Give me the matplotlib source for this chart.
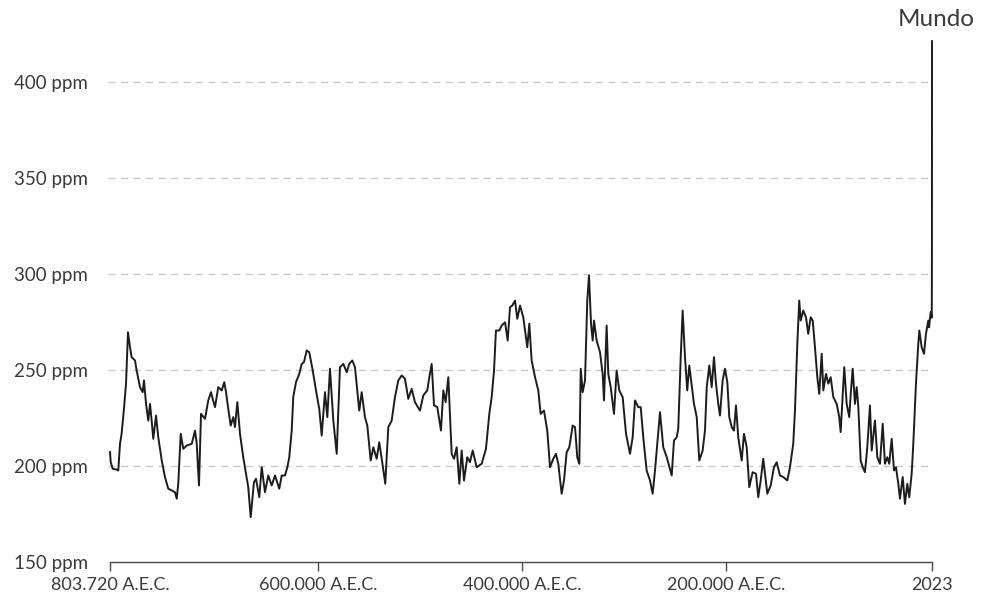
import numpy as np
import matplotlib
matplotlib.use("Agg")
import matplotlib.pyplot as plt

# Time in thousands of years relative to year 0 (negative = B.C.E.)
years_ka = [
    -803.72, -803.0, -801.1, -797.2, -795.6, -793.9, -792.3, -790.0, -788.0, -786.1,
    -784.1, -782.5, -779.2, -777.6, -774.3, -771.7, -770.4, -768.4, -766.2, -764.5,
    -762.9, -761.3, -758.6, -756.4, -753.0, -749.8, -746.6, -743.2, -740.0, -738.3,
    -736.8, -734.4, -731.9, -728.5, -723.6, -720.4, -718.7, -716.5, -714.5, -710.6,
    -707.4, -704.7, -703.1, -700.8, -697.6, -694.2, -691.7, -690.0, -687.8, -685.4,
    -682.9, -681.2, -678.9, -676.3, -673.1, -670.4, -668.2, -665.8, -662.6, -660.6,
    -657.4, -655.0, -651.8, -648.6, -645.2, -642.0, -637.8, -635.4, -632.2, -629.9,
    -628.0, -625.6, -624.1, -621.4, -618.2, -615.8, -613.6, -610.9, -608.4, -605.0,
    -601.8, -598.6, -596.2, -593.0, -590.7, -588.1, -584.8, -581.5, -578.3, -575.0,
    -571.7, -569.2, -566.2, -563.6, -559.4, -557.0, -553.8, -551.5, -548.2, -545.6,
    -542.3, -539.8, -536.4, -533.9, -530.9, -527.6, -524.4, -521.1, -517.8, -514.6,
    -511.3, -508.0, -504.8, -499.9, -496.6, -492.7, -490.7, -488.4, -486.1, -482.9,
    -479.3, -477.0, -474.7, -472.1, -468.8, -466.5, -463.9, -461.3, -459.0, -456.7,
    -453.5, -450.9, -448.2, -444.3, -439.4, -435.2, -431.9, -429.6, -427.3, -425.4,
    -422.1, -419.8, -416.5, -413.9, -411.6, -409.4, -406.7, -404.5, -401.8, -398.6,
    -394.7, -392.7, -390.4, -387.1, -383.9, -381.6, -378.3, -375.1, -372.4, -369.2,
    -366.6, -364.3, -361.0, -358.7, -356.1, -353.5, -350.2, -347.9, -345.7, -343.7,
    -342.3, -340.4, -338.1, -335.9, -334.2, -332.2, -330.6, -329.3, -326.7, -323.4,
    -320.8, -319.5, -316.9, -315.3, -312.9, -309.7, -307.1, -304.5, -301.2, -297.9,
    -294.0, -291.4, -289.1, -285.9, -283.5, -281.0, -277.7, -274.4, -271.8, -269.5,
    -267.3, -264.6, -261.4, -258.0, -253.1, -250.9, -248.2, -246.7, -244.3, -242.4,
    -240.1, -237.9, -235.9, -233.5, -231.3, -228.6, -226.1, -222.8, -220.5, -218.8,
    -216.3, -213.9, -211.7, -209.7, -207.5, -205.8, -203.2, -200.9, -198.6, -196.7,
    -194.3, -192.1, -190.1, -187.9, -184.5, -182.3, -179.6, -177.1, -173.8, -170.5,
    -168.3, -165.9, -163.4, -159.4, -156.1, -152.9, -150.2, -147.0, -143.8, -139.8,
    -137.2, -134.0, -132.3, -130.0, -128.1, -126.7, -124.2, -121.5, -119.3, -116.9,
    -114.9, -112.7, -110.4, -108.5, -106.1, -104.5, -101.9, -99.6, -97.3, -94.7,
    -91.4, -88.9, -87.5, -85.5, -84.0, -81.6, -79.1, -77.4, -75.7, -73.5,
    -71.8, -70.2, -67.9, -65.9, -63.7, -61.4, -58.8, -57.1, -53.9, -51.6,
    -49.0, -46.3, -44.1, -41.8, -39.9, -37.5, -35.2, -33.3, -31.0, -29.4,
    -26.7, -24.5, -22.2, -20.3, -17.9, -16.3, -13.7, -11.4, -10.4, -8.1,
    -5.8, -3.9, -1.6, -0.8, 0.5, 1.0, 1.7, 1.85, 1.96, 2.0, 2.023,
]

co2_ppm = [
    207.0, 201.7, 198.3, 197.9, 197.4, 211.5, 216.7, 229.7, 242.7, 269.4,
    261.6, 256.4, 254.7, 249.5, 240.8, 238.2, 244.3, 232.1, 223.4, 232.1,
    223.4, 213.9, 226.0, 214.7, 202.6, 193.9, 187.9, 187.0, 186.1, 182.7,
    190.5, 216.5, 208.7, 210.4, 211.3, 218.2, 211.3, 189.6, 226.9, 224.3,
    233.9, 238.2, 234.7, 230.4, 240.8, 239.1, 243.4, 238.2, 229.5, 220.8,
    225.2, 220.0, 233.0, 216.5, 204.3, 195.7, 188.7, 173.1, 191.3, 193.1,
    183.5, 199.1, 186.1, 194.8, 189.6, 194.8, 187.9, 194.8, 194.8, 199.1,
    204.3, 218.2, 235.6, 243.4, 247.7, 252.9, 253.8, 259.9, 259.0, 249.5,
    239.1, 229.5, 215.6, 238.2, 225.2, 250.4, 223.4, 206.1, 251.2, 252.9,
    248.6, 252.9, 254.7, 251.2, 228.6, 238.2, 225.2, 220.8, 202.6, 209.5,
    203.5, 212.1, 200.0, 190.5, 220.0, 223.4, 235.6, 244.3, 246.9, 245.2,
    234.7, 239.9, 233.0, 228.6, 236.5, 239.1, 246.0, 252.9, 231.3, 230.4,
    218.2, 239.1, 233.0, 246.0, 206.1, 203.5, 209.5, 190.5, 207.8, 192.2,
    204.3, 201.7, 207.8, 199.1, 200.9, 208.7, 226.9, 235.6, 249.5, 270.3,
    270.3, 272.9, 274.6, 265.1, 282.5, 283.3, 285.9, 276.4, 283.3, 277.2,
    261.6, 273.8, 254.7, 246.0, 239.1, 226.9, 228.6, 218.2, 199.1, 203.5,
    206.1, 200.9, 185.3, 192.2, 206.9, 209.5, 220.8, 220.0, 204.3, 200.9,
    250.4, 238.2, 244.3, 285.9, 299.0, 273.8, 265.1, 275.5, 265.1, 259.0,
    247.7, 233.9, 272.9, 247.7, 240.8, 226.9, 249.5, 239.1, 235.6, 216.5,
    206.1, 214.7, 233.9, 230.4, 230.4, 214.7, 197.4, 192.2, 185.3, 197.4,
    211.3, 227.8, 209.5, 204.3, 194.8, 213.0, 214.7, 219.1, 256.4, 280.7,
    256.4, 239.1, 252.1, 241.7, 232.1, 225.2, 202.6, 207.8, 218.2, 240.8,
    252.1, 240.8, 256.4, 242.6, 232.1, 226.0, 244.3, 250.4, 243.4, 225.2,
    220.0, 218.2, 231.3, 214.7, 202.6, 216.5, 209.5, 188.7, 196.5, 195.7,
    183.5, 192.2, 203.5, 185.3, 189.6, 199.1, 201.7, 194.8, 194.0, 192.2,
    199.1, 211.3, 228.6, 263.4, 285.9, 275.5, 280.7, 277.2, 268.6, 277.2,
    275.5, 261.6, 246.0, 237.3, 258.2, 239.1, 247.7, 242.6, 246.0, 235.6,
    232.1, 225.2, 217.4, 237.3, 251.2, 232.1, 225.2, 239.1, 250.4, 232.1,
    240.8, 230.4, 202.6, 199.1, 196.5, 209.5, 231.3, 207.8, 223.4, 204.3,
    200.9, 221.7, 200.9, 204.3, 200.9, 213.9, 197.4, 199.1, 190.5, 182.7,
    194.0, 180.0, 190.5, 183.5, 195.7, 211.3, 242.6, 263.4, 270.3, 261.6,
    258.2, 268.6, 275.5, 272.0, 279.0, 280.0, 277.0, 285.0, 317.0, 370.0, 421.0,
]

y_ticks = [150, 200, 250, 300, 350, 400]
y_tick_labels = ["150 ppm", "200 ppm", "250 ppm", "300 ppm", "350 ppm", "400 ppm"]
x_ticks = [-803720, -600000, -400000, -200000, 2023]
x_tick_labels = ["803.720 A.E.C.", "600.000 A.E.C.", "400.000 A.E.C.",
                 "200.000 A.E.C.", "2023"]
series_label = "Mundo"

plt.rcParams['font.family'] = ['Lato', 'DejaVu Sans']
TEXT = '#3a3a3a'

fig = plt.figure(figsize=(9.9, 6.12), dpi=100)
ax = fig.add_axes([110 / 990, 50.5 / 612, 822 / 990, (561.5 - 33.5) / 612])

years = np.array(years_ka) * 1000.0
ax.plot(years, co2_ppm, color='#1c1c1c', lw=1.4, clip_on=False, zorder=3)

ax.set_xlim(-803720, 2023)
ax.set_ylim(150, 425)

for v in y_ticks[1:]:
    ax.axhline(v, xmin=-0.003, xmax=1.0, color='#c8c8c8', lw=1.0,
               ls=(0, (5, 4)), zorder=1, clip_on=False)

for s in ['top', 'right', 'left']:
    ax.spines[s].set_visible(False)
ax.spines['bottom'].set_color('#4a4a4a')
ax.spines['bottom'].set_linewidth(1.0)

ax.set_xticks(x_ticks)
ax.set_xticklabels(x_tick_labels)
ax.tick_params(axis='x', direction='out', length=6.5, width=1.0, color='#4a4a4a',
               pad=5, labelsize=13, labelcolor=TEXT)

ax.set_yticks(y_ticks)
ax.set_yticklabels(y_tick_labels)
ax.tick_params(axis='y', length=0, pad=69, labelsize=13.5, labelcolor=TEXT)
for lab in ax.get_yticklabels():
    lab.set_horizontalalignment('left')

fig.text(936 / 990, 1 - 20 / 612, series_label, ha='center', va='center',
         fontsize=17.5, color=TEXT)

fig.savefig('out.png', dpi=100)
